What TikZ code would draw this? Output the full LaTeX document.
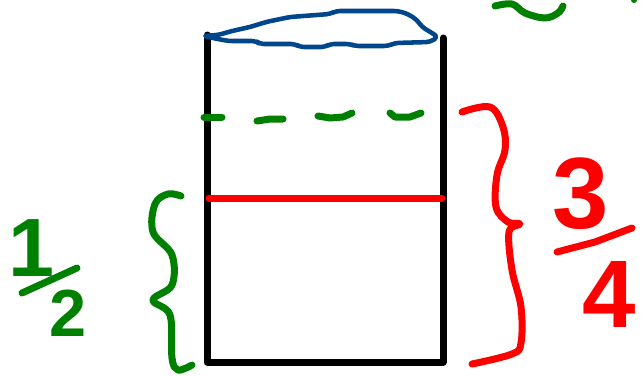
\documentclass[tikz,border=0pt]{standalone}
\usepackage{fontspec}
\setmainfont{Liberation Sans}
\usepackage{xcolor}
\usepackage{tikz}
\definecolor{sketchgreen}{RGB}{0,128,0}
\definecolor{sketchred}{RGB}{255,0,0}
\definecolor{lidblue}{RGB}{0,70,140}

\begin{document}
\begin{tikzpicture}[
        x=0.75pt, y=-0.75pt,
        pen/.style={line width=5.25pt, line cap=round, line join=round},
        thinpen/.style={line width=3.4pt, line cap=round, line join=round},
        digit/.style={inner sep=0pt, font=\fontsize{#1}{#1}\selectfont\bfseries}
    ]
        \useasboundingbox (0,0) rectangle (641,375);

        % glass
        \draw[pen] (207,35) -- (207,362) -- (443,362) -- (443,38);

        % lid
        \draw[thinpen, lidblue, rounded corners=3pt]
            (203,36) -- (218,35) -- (232,31) -- (250,27) -- (266,22) -- (290,17)
            -- (330,14) -- (336,11) -- (398,11) -- (408,14) -- (417,20) -- (422,27)
            -- (432,33) -- (438,37) -- (430,42) -- (395,43) -- (388,46) -- (355,46)
            -- (350,44) -- (330,44) -- (325,47) -- (300,47) -- (295,44) -- (260,44)
            -- (256,41) -- (228,41) -- (218,39) -- cycle;

        % levels
        \draw[pen, sketchred] (209,198) -- (442,198);
        \draw[pen, sketchgreen] (204,117) -- (222,117);
        \draw[pen, sketchgreen] (257,121) -- (270,119) -- (283,119);
        \draw[pen, sketchgreen] (318,116) -- (330,118) -- (343,117) -- (352,113);
        \draw[pen, sketchgreen] (390,113) -- (395,117) -- (410,117) -- (421,113);

        % one half
        \draw[pen, sketchgreen] plot[smooth, tension=0.6] coordinates {
            (181,196) (168,194) (155,204) (153,232) (172,255) (172,285) (153,300)
            (170,315) (172,358) (178,370) (192,365)};
        \node[digit=62, sketchgreen] (halfNum) at (31,248) {1};
        \node[digit=50, sketchgreen] (halfDen) at (68,313) {2};
        \draw[pen, sketchgreen] (22,293) -- (77,268);

        % three quarters
        \draw[pen, sketchred] plot[smooth, tension=0.6] coordinates {
            (462,112) (490,107) (503,127) (505,150) (497,175) (496,207) (508,222)
            (520,224) (509,232) (512,270) (521,307) (521,343) (512,354) (472,364)};
        \node[digit=76, sketchred] (quarterNum) at (581,194) {3};
        \node[digit=72, sketchred] (quarterDen) at (609,294) {4};
        \draw[pen, sketchred] (557,252) -- (595,242) -- (632,228);

        % cut off mark, top right
        \draw[pen, sketchgreen] plot[smooth, tension=0.6] coordinates {
            (495,6) (512,4) (525,13) (545,18) (558,13) (563,6)};
        \fill[sketchgreen] (634,0) circle (3);
    \end{tikzpicture}
\end{document}
